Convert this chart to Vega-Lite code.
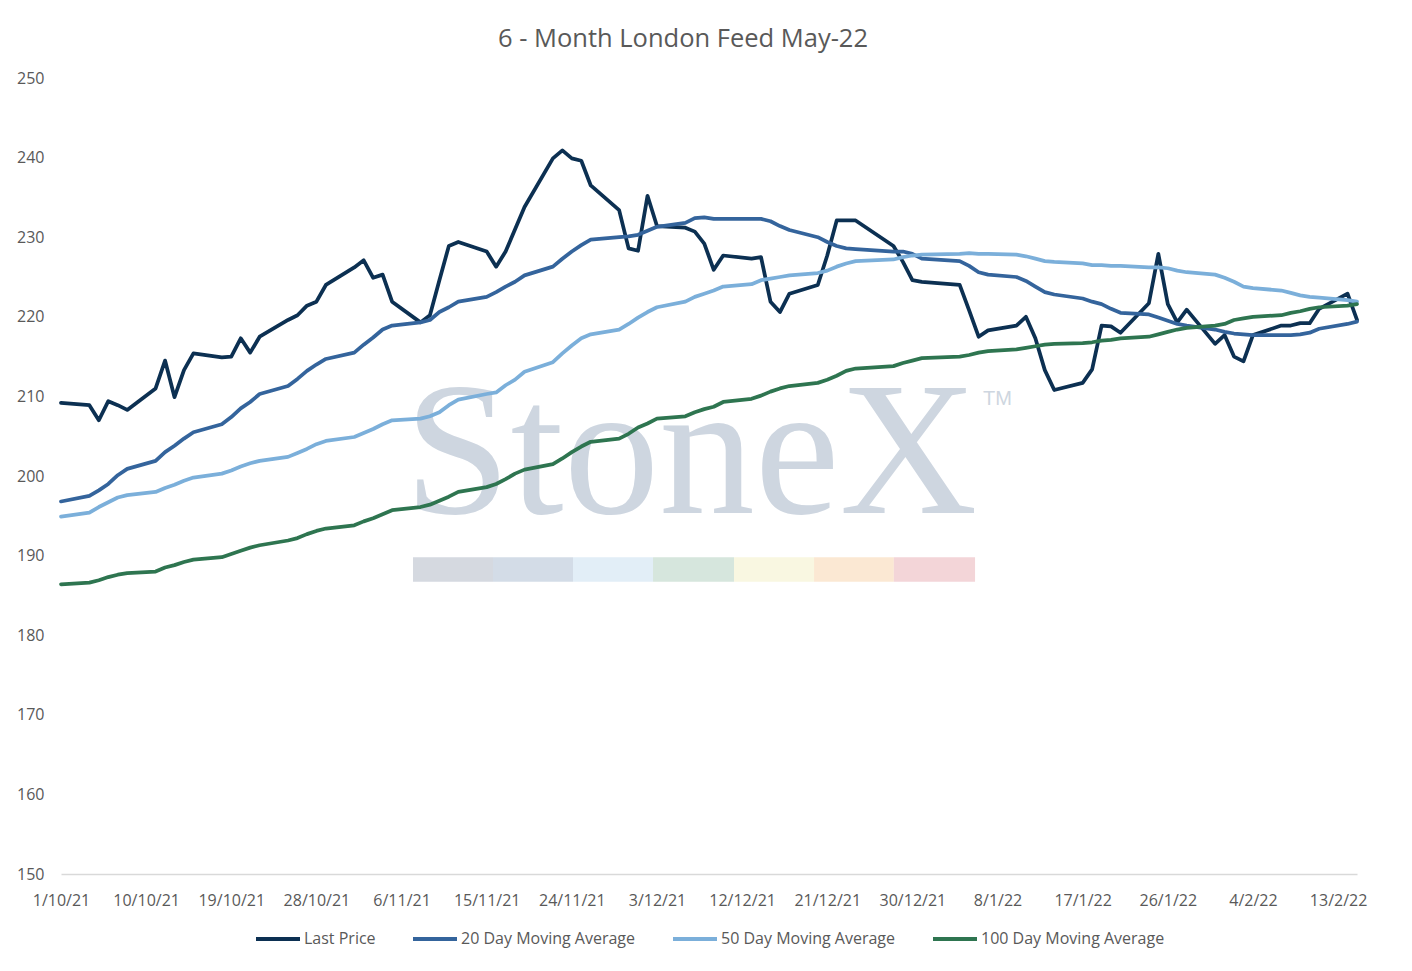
{
  "$schema": "https://vega.github.io/schema/vega-lite/v6.json",
  "width": 1296,
  "height": 796,
  "autosize": "none",
  "padding": {"left": 61, "top": 78, "right": 55, "bottom": 97},
  "background": "white",
  "title": {
    "text": "6 - Month London Feed May-22",
    "font": "Open Sans",
    "fontSize": 25.5,
    "fontWeight": "normal",
    "color": "#595959",
    "anchor": "middle",
    "dx": -26,
    "baseline": "alphabetic",
    "offset": -2
  },
  "config": {
    "view": {"stroke": null},
    "font": "Open Sans",
    "legend": {"layout": {"bottom": {"anchor": "middle"}}},
    "axisX": {
      "domainColor": "#D9D9D9",
      "domainWidth": 1.5,
      "ticks": false,
      "grid": false,
      "labelFont": "Open Sans",
      "labelFontSize": 16,
      "labelColor": "#595959",
      "labelBaseline": "alphabetic",
      "labelPadding": 31,
      "labelFlush": false,
      "labelOverlap": false
    },
    "axisY": {
      "domain": false,
      "ticks": false,
      "grid": false,
      "labelFont": "Open Sans",
      "labelFontSize": 16,
      "labelColor": "#595959",
      "labelPadding": 17
    }
  },
  "layer": [
    {
      "data": {
        "values": [
          {"band": "1", "from": "2021-11-07T05:00:00Z", "to": "2021-11-15T16:00:00Z"},
          {"band": "2", "from": "2021-11-15T16:00:00Z", "to": "2021-11-24T03:00:00Z"},
          {"band": "3", "from": "2021-11-24T03:00:00Z", "to": "2021-12-02T14:00:00Z"},
          {"band": "4", "from": "2021-12-02T14:00:00Z", "to": "2021-12-11T03:30:00Z"},
          {"band": "5", "from": "2021-12-11T03:30:00Z", "to": "2021-12-19T14:30:00Z"},
          {"band": "6", "from": "2021-12-19T14:30:00Z", "to": "2021-12-28T01:00:00Z"},
          {"band": "7", "from": "2021-12-28T01:00:00Z", "to": "2022-01-05T15:00:00Z"}
        ]
      },
      "mark": {"type": "rect"},
      "encoding": {
        "x": {
          "field": "from",
          "type": "temporal",
          "title": null,
          "scale": {"type": "utc", "domain": [{"year": 2021, "month": "oct", "date": 1, "utc": true}, {"year": 2022, "month": "feb", "date": 15, "utc": true}]}
        },
        "x2": {"field": "to"},
        "y": {"datum": 189.8, "scale": {"domain": [150, 250], "nice": false, "zero": false}},
        "y2": {"datum": 186.7},
        "fill": {
          "field": "band",
          "type": "nominal",
          "legend": null,
          "scale": {
            "domain": ["1", "2", "3", "4", "5", "6", "7"],
            "range": ["#D5D9E0", "#D3DCE7", "#E2EEF7", "#D6E6DD", "#F9F7E1", "#FBE8D3", "#F3D5D8"]
          }
        }
      }
    },
    {
      "data": {"values": [{}]},
      "mark": {"type": "text", "text": "StoneX", "font": "Liberation Serif", "fontSize": 191, "color": "#CED6E0", "align": "center", "baseline": "alphabetic"},
      "encoding": {
        "x": {"datum": {"year": 2021, "month": "dec", "date": 6, "hours": 14, "utc": true}, "type": "temporal"},
        "y": {"datum": 195.35}
      }
    },
    {
      "data": {"values": [{}]},
      "mark": {"type": "text", "text": "TM", "font": "Liberation Sans", "fontSize": 20, "color": "#CED6E0", "align": "left", "baseline": "alphabetic"},
      "encoding": {
        "x": {"datum": {"year": 2022, "month": "jan", "date": 6, "hours": 11, "utc": true}, "type": "temporal"},
        "y": {"datum": 208.9}
      }
    },
    {
      "data": {
        "format": {"parse": {"d": "utc:'%Y-%m-%d'"}},
        "values": [
          {"d": "2021-10-01", "last": 209.2, "ma20": 196.8, "ma50": 194.9, "ma100": 186.4},
          {"d": "2021-10-04", "last": 208.9, "ma20": 197.5, "ma50": 195.4, "ma100": 186.6},
          {"d": "2021-10-05", "last": 207.0, "ma20": 198.2, "ma50": 196.1, "ma100": 186.9},
          {"d": "2021-10-06", "last": 209.4, "ma20": 199.0, "ma50": 196.7, "ma100": 187.3},
          {"d": "2021-10-07", "last": 208.9, "ma20": 200.1, "ma50": 197.3, "ma100": 187.6},
          {"d": "2021-10-08", "last": 208.3, "ma20": 200.9, "ma50": 197.6, "ma100": 187.8},
          {"d": "2021-10-11", "last": 211.0, "ma20": 201.9, "ma50": 198.0, "ma100": 188.0},
          {"d": "2021-10-12", "last": 214.5, "ma20": 203.0, "ma50": 198.5, "ma100": 188.5},
          {"d": "2021-10-13", "last": 209.9, "ma20": 203.8, "ma50": 198.9, "ma100": 188.8},
          {"d": "2021-10-14", "last": 213.3, "ma20": 204.7, "ma50": 199.4, "ma100": 189.2},
          {"d": "2021-10-15", "last": 215.4, "ma20": 205.5, "ma50": 199.8, "ma100": 189.5},
          {"d": "2021-10-18", "last": 214.9, "ma20": 206.5, "ma50": 200.3, "ma100": 189.8},
          {"d": "2021-10-19", "last": 215.0, "ma20": 207.4, "ma50": 200.7, "ma100": 190.2},
          {"d": "2021-10-20", "last": 217.3, "ma20": 208.5, "ma50": 201.2, "ma100": 190.6},
          {"d": "2021-10-21", "last": 215.5, "ma20": 209.3, "ma50": 201.6, "ma100": 191.0},
          {"d": "2021-10-22", "last": 217.5, "ma20": 210.3, "ma50": 201.9, "ma100": 191.3},
          {"d": "2021-10-25", "last": 219.6, "ma20": 211.3, "ma50": 202.4, "ma100": 191.9},
          {"d": "2021-10-26", "last": 220.2, "ma20": 212.2, "ma50": 202.9, "ma100": 192.2},
          {"d": "2021-10-27", "last": 221.4, "ma20": 213.2, "ma50": 203.4, "ma100": 192.7},
          {"d": "2021-10-28", "last": 221.9, "ma20": 214.0, "ma50": 204.0, "ma100": 193.1},
          {"d": "2021-10-29", "last": 224.0, "ma20": 214.7, "ma50": 204.4, "ma100": 193.4},
          {"d": "2021-11-01", "last": 226.2, "ma20": 215.5, "ma50": 204.9, "ma100": 193.8},
          {"d": "2021-11-02", "last": 227.1, "ma20": 216.5, "ma50": 205.4, "ma100": 194.3},
          {"d": "2021-11-03", "last": 224.9, "ma20": 217.4, "ma50": 205.9, "ma100": 194.7},
          {"d": "2021-11-04", "last": 225.3, "ma20": 218.4, "ma50": 206.5, "ma100": 195.2},
          {"d": "2021-11-05", "last": 221.9, "ma20": 218.9, "ma50": 207.0, "ma100": 195.7},
          {"d": "2021-11-08", "last": 219.3, "ma20": 219.3, "ma50": 207.2, "ma100": 196.1},
          {"d": "2021-11-09", "last": 220.2, "ma20": 219.6, "ma50": 207.5, "ma100": 196.4},
          {"d": "2021-11-10", "last": 224.6, "ma20": 220.6, "ma50": 208.0, "ma100": 196.9},
          {"d": "2021-11-11", "last": 228.9, "ma20": 221.2, "ma50": 208.9, "ma100": 197.4},
          {"d": "2021-11-12", "last": 229.4, "ma20": 221.9, "ma50": 209.6, "ma100": 198.0},
          {"d": "2021-11-15", "last": 228.2, "ma20": 222.5, "ma50": 210.3, "ma100": 198.6},
          {"d": "2021-11-16", "last": 226.3, "ma20": 223.1, "ma50": 210.5, "ma100": 199.0},
          {"d": "2021-11-17", "last": 228.2, "ma20": 223.8, "ma50": 211.4, "ma100": 199.6},
          {"d": "2021-11-18", "last": 231.0, "ma20": 224.4, "ma50": 212.1, "ma100": 200.3},
          {"d": "2021-11-19", "last": 233.8, "ma20": 225.2, "ma50": 213.1, "ma100": 200.8},
          {"d": "2021-11-22", "last": 239.9, "ma20": 226.3, "ma50": 214.3, "ma100": 201.5},
          {"d": "2021-11-23", "last": 240.9, "ma20": 227.3, "ma50": 215.4, "ma100": 202.2},
          {"d": "2021-11-24", "last": 239.9, "ma20": 228.2, "ma50": 216.4, "ma100": 203.0},
          {"d": "2021-11-25", "last": 239.6, "ma20": 229.0, "ma50": 217.3, "ma100": 203.7},
          {"d": "2021-11-26", "last": 236.5, "ma20": 229.7, "ma50": 217.8, "ma100": 204.3},
          {"d": "2021-11-29", "last": 233.4, "ma20": 230.0, "ma50": 218.4, "ma100": 204.7},
          {"d": "2021-11-30", "last": 228.6, "ma20": 230.1, "ma50": 219.1, "ma100": 205.3},
          {"d": "2021-12-01", "last": 228.3, "ma20": 230.3, "ma50": 219.9, "ma100": 206.1},
          {"d": "2021-12-02", "last": 235.2, "ma20": 230.8, "ma50": 220.6, "ma100": 206.6},
          {"d": "2021-12-03", "last": 231.4, "ma20": 231.3, "ma50": 221.2, "ma100": 207.2},
          {"d": "2021-12-06", "last": 231.2, "ma20": 231.8, "ma50": 221.9, "ma100": 207.5},
          {"d": "2021-12-07", "last": 230.7, "ma20": 232.4, "ma50": 222.5, "ma100": 208.0},
          {"d": "2021-12-08", "last": 229.2, "ma20": 232.5, "ma50": 222.9, "ma100": 208.4},
          {"d": "2021-12-09", "last": 225.9, "ma20": 232.3, "ma50": 223.3, "ma100": 208.7},
          {"d": "2021-12-10", "last": 227.7, "ma20": 232.3, "ma50": 223.8, "ma100": 209.3},
          {"d": "2021-12-13", "last": 227.3, "ma20": 232.3, "ma50": 224.1, "ma100": 209.7},
          {"d": "2021-12-14", "last": 227.5, "ma20": 232.3, "ma50": 224.6, "ma100": 210.1},
          {"d": "2021-12-15", "last": 221.9, "ma20": 232.0, "ma50": 224.8, "ma100": 210.6},
          {"d": "2021-12-16", "last": 220.6, "ma20": 231.4, "ma50": 225.0, "ma100": 211.0},
          {"d": "2021-12-17", "last": 222.9, "ma20": 230.9, "ma50": 225.2, "ma100": 211.3},
          {"d": "2021-12-20", "last": 224.0, "ma20": 230.0, "ma50": 225.5, "ma100": 211.7},
          {"d": "2021-12-21", "last": 227.7, "ma20": 229.4, "ma50": 225.8, "ma100": 212.1},
          {"d": "2021-12-22", "last": 232.1, "ma20": 228.9, "ma50": 226.3, "ma100": 212.6},
          {"d": "2021-12-23", "last": 232.1, "ma20": 228.6, "ma50": 226.7, "ma100": 213.2},
          {"d": "2021-12-24", "last": 232.1, "ma20": 228.5, "ma50": 227.0, "ma100": 213.5},
          {"d": "2021-12-28", "last": 228.9, "ma20": 228.2, "ma50": 227.2, "ma100": 213.8},
          {"d": "2021-12-29", "last": 226.9, "ma20": 228.2, "ma50": 227.5, "ma100": 214.2},
          {"d": "2021-12-30", "last": 224.6, "ma20": 227.9, "ma50": 227.7, "ma100": 214.5},
          {"d": "2021-12-31", "last": 224.4, "ma20": 227.3, "ma50": 227.8, "ma100": 214.8},
          {"d": "2022-01-04", "last": 224.0, "ma20": 227.0, "ma50": 227.9, "ma100": 215.0},
          {"d": "2022-01-05", "last": 220.8, "ma20": 226.4, "ma50": 228.0, "ma100": 215.2},
          {"d": "2022-01-06", "last": 217.5, "ma20": 225.6, "ma50": 227.9, "ma100": 215.5},
          {"d": "2022-01-07", "last": 218.3, "ma20": 225.3, "ma50": 227.9, "ma100": 215.7},
          {"d": "2022-01-10", "last": 218.9, "ma20": 225.0, "ma50": 227.8, "ma100": 215.9},
          {"d": "2022-01-11", "last": 220.0, "ma20": 224.5, "ma50": 227.6, "ma100": 216.1},
          {"d": "2022-01-12", "last": 217.3, "ma20": 223.8, "ma50": 227.3, "ma100": 216.3},
          {"d": "2022-01-13", "last": 213.3, "ma20": 223.1, "ma50": 227.0, "ma100": 216.5},
          {"d": "2022-01-14", "last": 210.8, "ma20": 222.8, "ma50": 226.9, "ma100": 216.6},
          {"d": "2022-01-17", "last": 211.7, "ma20": 222.3, "ma50": 226.7, "ma100": 216.7},
          {"d": "2022-01-18", "last": 213.4, "ma20": 221.9, "ma50": 226.5, "ma100": 216.8},
          {"d": "2022-01-19", "last": 218.9, "ma20": 221.6, "ma50": 226.5, "ma100": 217.0},
          {"d": "2022-01-20", "last": 218.8, "ma20": 221.0, "ma50": 226.4, "ma100": 217.1},
          {"d": "2022-01-21", "last": 218.0, "ma20": 220.5, "ma50": 226.4, "ma100": 217.3},
          {"d": "2022-01-24", "last": 221.7, "ma20": 220.3, "ma50": 226.2, "ma100": 217.5},
          {"d": "2022-01-25", "last": 227.9, "ma20": 219.9, "ma50": 226.2, "ma100": 217.8},
          {"d": "2022-01-26", "last": 221.6, "ma20": 219.5, "ma50": 226.1, "ma100": 218.1},
          {"d": "2022-01-27", "last": 219.3, "ma20": 219.1, "ma50": 225.8, "ma100": 218.4},
          {"d": "2022-01-28", "last": 220.9, "ma20": 218.9, "ma50": 225.6, "ma100": 218.6},
          {"d": "2022-01-31", "last": 216.6, "ma20": 218.4, "ma50": 225.3, "ma100": 218.9},
          {"d": "2022-02-01", "last": 217.7, "ma20": 218.1, "ma50": 224.9, "ma100": 219.1},
          {"d": "2022-02-02", "last": 215.0, "ma20": 217.9, "ma50": 224.4, "ma100": 219.6},
          {"d": "2022-02-03", "last": 214.4, "ma20": 217.8, "ma50": 223.8, "ma100": 219.8},
          {"d": "2022-02-04", "last": 217.7, "ma20": 217.7, "ma50": 223.6, "ma100": 220.0},
          {"d": "2022-02-07", "last": 218.9, "ma20": 217.7, "ma50": 223.3, "ma100": 220.2},
          {"d": "2022-02-08", "last": 218.9, "ma20": 217.7, "ma50": 223.0, "ma100": 220.5},
          {"d": "2022-02-09", "last": 219.2, "ma20": 217.8, "ma50": 222.7, "ma100": 220.7},
          {"d": "2022-02-10", "last": 219.2, "ma20": 218.0, "ma50": 222.5, "ma100": 221.0},
          {"d": "2022-02-11", "last": 221.0, "ma20": 218.5, "ma50": 222.4, "ma100": 221.2},
          {"d": "2022-02-14", "last": 222.9, "ma20": 219.1, "ma50": 222.1, "ma100": 221.4},
          {"d": "2022-02-15", "last": 219.6, "ma20": 219.4, "ma50": 221.9, "ma100": 221.6}
        ]
      },
      "transform": [
        {"fold": ["last", "ma20", "ma50", "ma100"], "as": ["series", "value"]}
      ],
      "mark": {"type": "line", "strokeWidth": 3.75, "strokeCap": "round", "strokeJoin": "round"},
      "encoding": {
        "x": {
          "field": "d",
          "type": "temporal",
          "title": null,
          "scale": {"type": "utc", "domain": [{"year": 2021, "month": "oct", "date": 1, "utc": true}, {"year": 2022, "month": "feb", "date": 15, "utc": true}]},
          "axis": {
            "format": "%-d/%-m/%y",
            "values": [1633046400000, 1633824000000, 1634601600000, 1635379200000, 1636156800000, 1636934400000, 1637712000000, 1638489600000, 1639267200000, 1640044800000, 1640822400000, 1641600000000, 1642377600000, 1643155200000, 1643932800000, 1644710400000]
          }
        },
        "y": {
          "field": "value",
          "type": "quantitative",
          "title": null,
          "scale": {"domain": [150, 250], "nice": false, "zero": false},
          "axis": {"values": [150, 160, 170, 180, 190, 200, 210, 220, 230, 240, 250]}
        },
        "color": {
          "field": "series",
          "type": "nominal",
          "scale": {
            "domain": ["last", "ma20", "ma50", "ma100"],
            "range": ["#0C3052", "#34649C", "#7BAFDA", "#2E7550"]
          },
          "legend": {
            "orient": "bottom",
            "direction": "horizontal",
            "title": null,
            "symbolType": "stroke",
            "symbolSize": 1936,
            "symbolStrokeWidth": 4,
            "labelFont": "Open Sans",
            "labelFontSize": 16,
            "labelColor": "#595959",
            "labelLimit": 400,
            "labelOffset": 2,
            "columnPadding": 29,
            "offset": 7,
            "labelExpr": "datum.label == 'last' ? 'Last Price' : datum.label == 'ma20' ? '20 Day Moving Average' : datum.label == 'ma50' ? '50 Day Moving Average' : '100 Day Moving Average'"
          }
        }
      }
    }
  ]
}
